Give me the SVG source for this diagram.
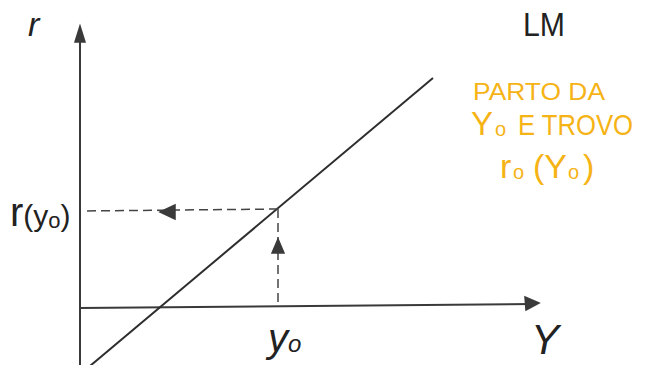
<svg xmlns="http://www.w3.org/2000/svg" width="651" height="365" viewBox="0 0 651 365">
<style>
.ax{stroke:#3a3a3a;stroke-width:2;fill:none}
.ln{stroke:#2e2e2e;stroke-width:2;fill:none}
.ds{stroke:#444;stroke-width:1.5;fill:none;stroke-dasharray:9 5}
.ah{fill:#3a3a3a;stroke:#3a3a3a;stroke-width:1.5}
.lb{font-family:"Liberation Sans","DejaVu Sans",sans-serif;fill:#222}
.or{font-family:"Liberation Sans","DejaVu Sans",sans-serif;fill:#f6b316}
</style>
<rect width="651" height="365" fill="#ffffff"/>
<g id="axes">
<line class="ax" x1="80" y1="30" x2="80" y2="365"/>
<polygon class="ah" points="80,26 75,42 85,42"/>
<line class="ax" x1="80" y1="308" x2="532" y2="304"/>
<polygon class="ah" points="539,303 525,297 526,310"/>
</g>
<g id="lm-curve">
<line class="ln" x1="90" y1="366" x2="433" y2="78"/>
</g>
<g id="connectors">
<path class="ds" d="M278,209 L82,211"/>
<polygon class="ah" points="160,212 175,205 175,219"/>
<path class="ds" d="M278,209 L278,307"/>
<polygon class="ah" points="278,239 272,253 284,253"/>
</g>
<g id="labels">
<text class="lb" x="28" y="36" font-size="34" font-style="italic">r</text>
<text class="lb" x="523" y="36" font-size="34" textLength="42" lengthAdjust="spacingAndGlyphs">LM</text>
<text class="lb" x="10" y="226" font-size="40">r<tspan font-size="30">(y</tspan><tspan font-size="22" dy="2">o</tspan><tspan font-size="30" dy="-2">)</tspan></text>
<text class="lb" x="268" y="352" font-size="40" font-style="italic">y<tspan font-size="24">o</tspan></text>
<text class="lb" x="531" y="354" font-size="42" font-style="italic">Y</text>
</g>
<g id="note">
<text class="or" x="473" y="100" font-size="24" textLength="132" lengthAdjust="spacingAndGlyphs">PARTO DA</text>
<text class="or" x="471" y="135" font-size="33">Y</text>
<text class="or" x="495" y="136" font-size="20">o</text>
<text class="or" x="518" y="135" font-size="30" textLength="115" lengthAdjust="spacingAndGlyphs">E TROVO</text>
<text class="or" x="500" y="178" font-size="34">r</text>
<text class="or" x="513" y="179" font-size="20">o</text>
<text class="or" x="533" y="178" font-size="34">(Y</text>
<text class="or" x="568" y="179" font-size="20">o</text>
<text class="or" x="583" y="178" font-size="34">)</text>
</g>
</svg>
